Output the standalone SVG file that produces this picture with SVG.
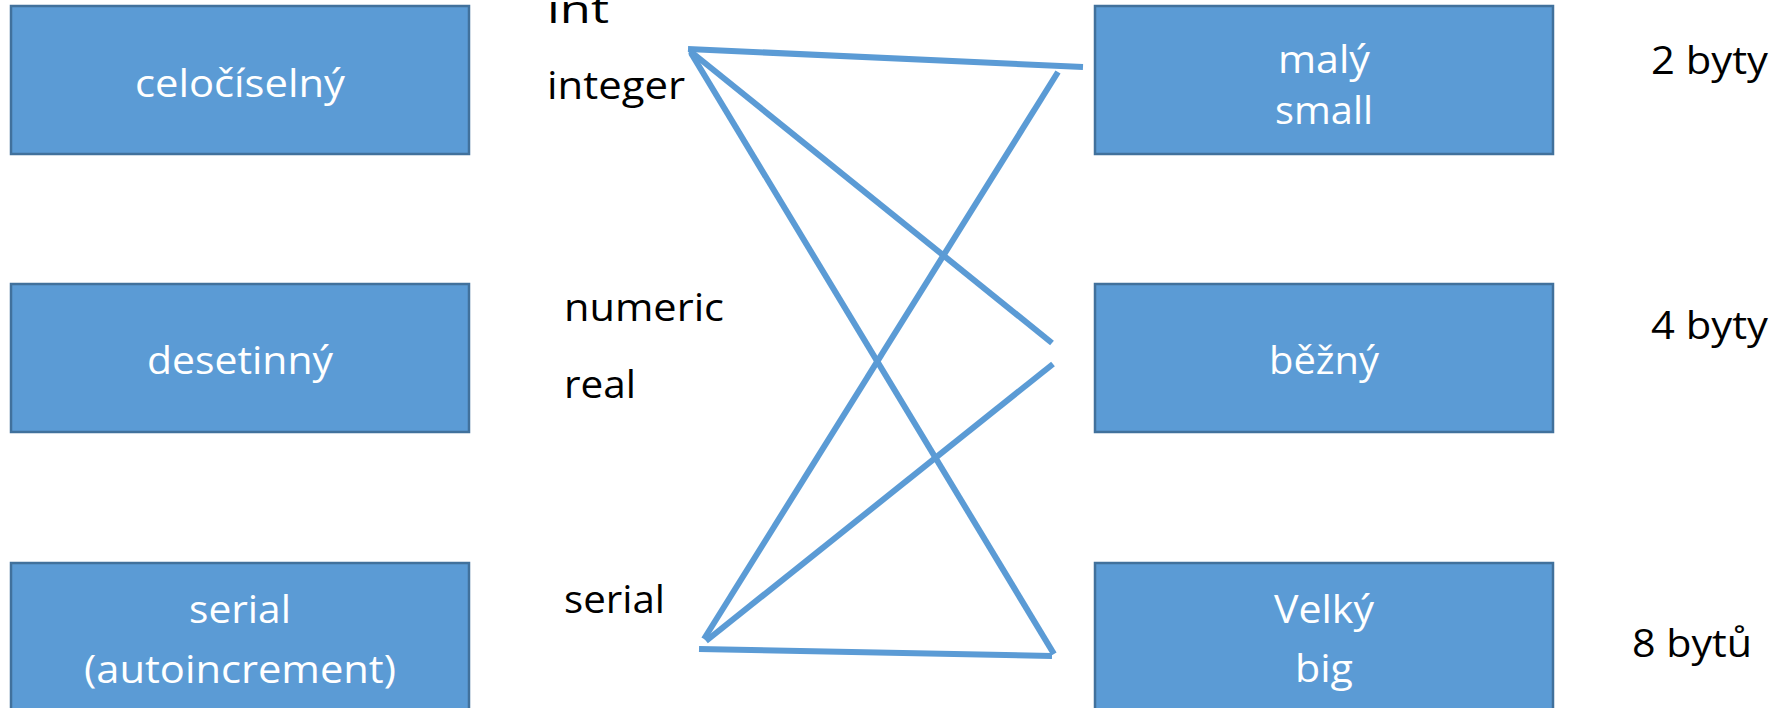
<svg xmlns="http://www.w3.org/2000/svg" width="1775" height="708" viewBox="0 0 1775 708">
  <style>
    .box { fill: #5B9BD5; stroke: #41719C; stroke-width: 2.5; }
    .in { fill: #FFFFFF; font-family: "Open Sans", "Liberation Sans", sans-serif; font-size: 38px; text-anchor: middle; }
    .lbl { fill: #000000; font-family: "Open Sans", "Liberation Sans", sans-serif; font-size: 38px; }
    .link { stroke: #5B9BD5; stroke-width: 6; fill: none; stroke-linecap: butt; }
  </style>
  <rect width="1775" height="708" fill="#FFFFFF"/>

  <!-- category boxes on the left -->
  <g id="celociselny">
    <rect class="box" x="11" y="6" width="458" height="148"/>
    <text class="in" x="240" y="97" textLength="210" lengthAdjust="spacingAndGlyphs">celočíselný</text>
  </g>
  <g id="desetinny">
    <rect class="box" x="11" y="284" width="458" height="148"/>
    <text class="in" x="240" y="374" textLength="186" lengthAdjust="spacingAndGlyphs">desetinný</text>
  </g>
  <g id="serial-box">
    <rect class="box" x="11" y="563" width="458" height="150"/>
    <text class="in" x="240" y="623" textLength="102" lengthAdjust="spacingAndGlyphs">serial</text>
    <text class="in" x="240" y="683" textLength="312" lengthAdjust="spacingAndGlyphs">(autoincrement)</text>
  </g>

  <!-- type names -->
  <g id="names">
    <text class="lbl" x="547" y="23" textLength="62" lengthAdjust="spacingAndGlyphs">int</text>
    <text class="lbl" x="547" y="99" textLength="138" lengthAdjust="spacingAndGlyphs">integer</text>
    <text class="lbl" x="564" y="321" textLength="160" lengthAdjust="spacingAndGlyphs">numeric</text>
    <text class="lbl" x="564" y="398" textLength="72" lengthAdjust="spacingAndGlyphs">real</text>
    <text class="lbl" x="564" y="613" textLength="101" lengthAdjust="spacingAndGlyphs">serial</text>
  </g>

  <!-- size boxes on the right -->
  <g id="maly">
    <rect class="box" x="1095" y="6" width="458" height="148"/>
    <text class="in" x="1324" y="73" textLength="92" lengthAdjust="spacingAndGlyphs">malý</text>
    <text class="in" x="1324" y="124" textLength="98" lengthAdjust="spacingAndGlyphs">small</text>
  </g>
  <g id="bezny">
    <rect class="box" x="1095" y="284" width="458" height="148"/>
    <text class="in" x="1324" y="374" textLength="110" lengthAdjust="spacingAndGlyphs">běžný</text>
  </g>
  <g id="velky">
    <rect class="box" x="1095" y="563" width="458" height="150"/>
    <text class="in" x="1324" y="623" textLength="100" lengthAdjust="spacingAndGlyphs">Velký</text>
    <text class="in" x="1324" y="682" textLength="58" lengthAdjust="spacingAndGlyphs">big</text>
  </g>

  <!-- byte sizes -->
  <g id="sizes">
    <text class="lbl" x="1651" y="74" textLength="117" lengthAdjust="spacingAndGlyphs">2 byty</text>
    <text class="lbl" x="1651" y="339" textLength="117" lengthAdjust="spacingAndGlyphs">4 byty</text>
    <text class="lbl" x="1632" y="657" textLength="120" lengthAdjust="spacingAndGlyphs">8 bytů</text>
  </g>

  <!-- connectors -->
  <g id="connectors">
    <line class="link" x1="688" y1="49" x2="1083" y2="67"/>
    <line class="link" x1="690" y1="51" x2="1052" y2="343"/>
    <line class="link" x1="691" y1="53" x2="1054" y2="654"/>
    <line class="link" x1="1058" y1="72" x2="704" y2="639"/>
    <line class="link" x1="1053" y1="364" x2="706" y2="641"/>
    <line class="link" x1="699" y1="649" x2="1052" y2="656"/>
  </g>
</svg>
